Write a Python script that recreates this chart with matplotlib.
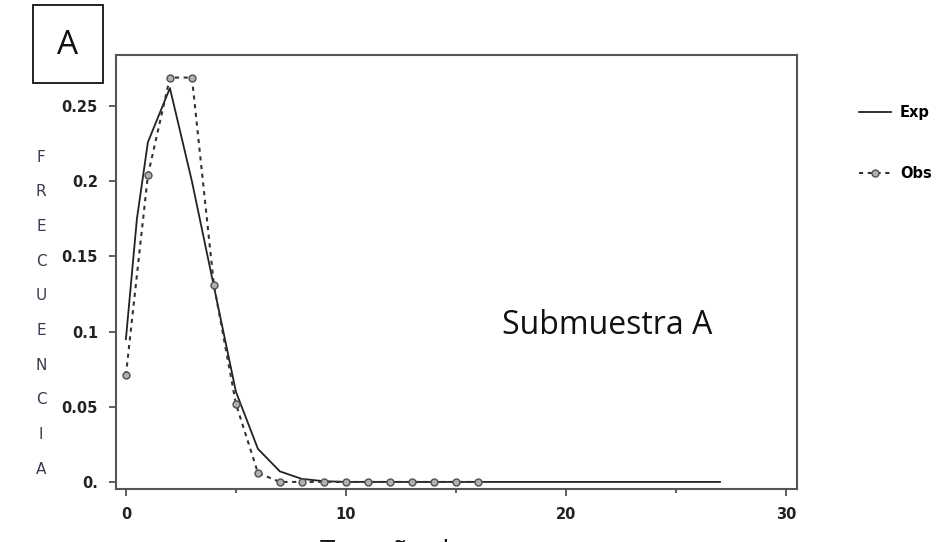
import numpy as np
import matplotlib.pyplot as plt
from matplotlib.patches import Rectangle

# valores
x_exp = [0, 0.5, 1, 2, 3, 4, 5, 6, 7, 8, 9, 10, 12, 15, 20, 27]
y_exp = [0.095, 0.175, 0.226, 0.262, 0.200, 0.130, 0.060, 0.022, 0.007, 0.002, 0.0005, 0.0, 0.0, 0.0, 0.0, 0.0]

x_obs = [0, 1, 2, 3, 4, 5, 6, 7, 8, 9, 10, 11, 12, 13, 14, 15, 16]
y_obs = [0.071, 0.204, 0.269, 0.269, 0.131, 0.052, 0.006, 0.0, 0.0, 0.0, 0.0, 0.0, 0.0, 0.0, 0.0, 0.0, 0.0]

x_ticks = [0, 10, 20, 30]
y_ticks = [0, 0.05, 0.1, 0.15, 0.2, 0.25]
y_ticklabels = ["0.", "0.05", "0.1", "0.15", "0.2", "0.25"]

W, H = 945, 542
fig = plt.figure(figsize=(W / 100, H / 100), dpi=100)
# ejes en pixeles: izq 116, der 797, arriba 55, abajo 489
ax = fig.add_axes([116 / W, 1 - 489 / H, (797 - 116) / W, (489 - 55) / H])

ax.plot(x_exp, y_exp, color="#222222", lw=1.3, label="Exp")
ax.plot(x_obs, y_obs, color="#333333", lw=1.5, ls=(0, (2, 2.2)),
        marker="o", ms=5, mfc="#b0b0b0", mec="#505050", mew=1.0, label="Obs")

ax.set_xlim(-0.45, 30.5)
ax.set_ylim(-0.0047, 0.284)
ax.set_xticks(x_ticks)
ax.set_xticks([5, 15, 25], minor=True)
ax.set_yticks(y_ticks)
ax.set_yticklabels(y_ticklabels)
for sp in ax.spines.values():
    sp.set_color("#555555")
    sp.set_linewidth(1.5)
ax.tick_params(axis="both", which="major", direction="out", length=5, width=1.2,
               color="#444444", labelsize=10.5, pad=8)
ax.tick_params(axis="x", which="minor", direction="out", length=3, width=1.2, color="#444444")
for lab in ax.get_xticklabels() + ax.get_yticklabels():
    lab.set_fontweight("bold")
    lab.set_color("#222222")

# leyenda fuera del eje
leg = fig.legend(*ax.get_legend_handles_labels(), loc="upper left",
                 bbox_to_anchor=(852 / W, 1 - 98 / H), frameon=False,
                 handlelength=2.2, labelspacing=3.15, handletextpad=0.6,
                 borderpad=0, prop={"weight": "bold", "size": 10.5})

# letras verticales FRECUENCIA
letras = "FRECUENCIA"
for i, c in enumerate(letras):
    fig.text(41 / W, 1 - (157 + i * 34.7) / H, c, ha="center", va="center",
             fontsize=11, color="#3a3a50", family="DejaVu Sans")

# recuadro con la letra A
fig.patches.append(Rectangle((33 / W, 1 - 83 / H), 70 / W, 78 / H,
                             transform=fig.transFigure, fill=False,
                             edgecolor="#111111", lw=1.3))
fig.text(68 / W, 1 - 45 / H, "A", ha="center", va="center", fontsize=24,
         family="Open Sans", color="#111111")

fig.text(607 / W, 1 - 325 / H, "Submuestra A", ha="center", va="center",
         fontsize=23, family="Open Sans", color="#111111")

# titulo del eje x, cortado por el borde inferior como en la original
fig.text(435 / W, 1 - 539 / H, "Tamaño de grupo", ha="center", va="top",
         fontsize=20, family="Open Sans", color="#111111")

fig.savefig("out.png", dpi=100, facecolor="white")
